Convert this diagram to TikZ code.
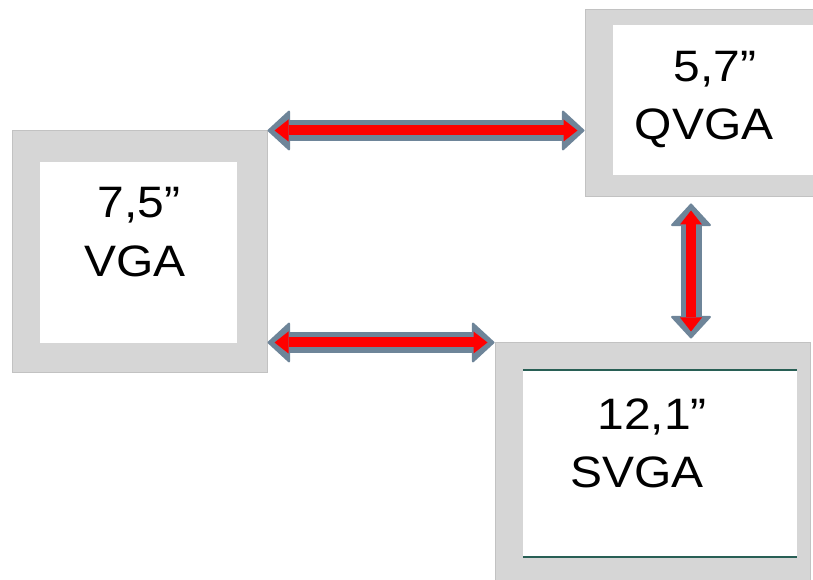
\documentclass[tikz,border=0pt]{standalone}
\usepackage{fontspec}
\setmainfont{Liberation Sans}
\usetikzlibrary{arrows.meta}
\definecolor{linkgray}{RGB}{110,133,153}
\definecolor{bezelgray}{RGB}{214,214,214}
\definecolor{edgeteal}{RGB}{40,95,85}

\tikzset{
  bezel/.style={draw=black!24, line width=1pt, fill=bezelgray, inner sep=0pt},
  screen/.style={fill=white, inner sep=0pt},
  caption/.style={font=\fontsize{44}{50}\selectfont, anchor=base, inner sep=0pt,
    xscale=1.09, transform shape},
  link/.style={draw=red, line width=10pt, shorten <=7pt, shorten >=7pt,
    {Triangle[length=14pt,width=22pt,line width=0pt]}-{Triangle[length=14pt,width=22pt,line width=0pt]},
    preaction={draw=linkgray, line width=21pt, shorten <=0pt, shorten >=0pt,
      {Triangle[length=23pt,width=42pt,line width=2pt,round]}-{Triangle[length=23pt,width=42pt,line width=2pt,round]}}}
}

\begin{document}
\begin{tikzpicture}[x=1pt,y=1pt]
  \clip (0,0) rectangle (813,580);

  % monitors
  \node[bezel, minimum width=255, minimum height=242] (vga) at (139.5,328) {};
  \node[screen, minimum width=197, minimum height=181] (vgascreen) at (138.5,327.5) {};
  \node[bezel, minimum width=250, minimum height=187] (qvga) at (710,476.5) {};
  \node[screen, minimum width=202, minimum height=150] (qvgascreen) at (714,480) {};
  \node[bezel, minimum width=315, minimum height=257] (svga) at (652.5,108.5) {};
  \node[screen, minimum width=274, minimum height=187] (svgascreen) at (660,116.5) {};
  \draw[edgeteal, line width=1.5pt] (svgascreen.north west) -- (svgascreen.north east);
  \draw[edgeteal, line width=1.5pt] (svgascreen.south west) -- (svgascreen.south east);

  % captions
  \node[caption] (vgasize) at (139,362) {7,5”};
  \node[caption] (vganame) at (135,303) {VGA};
  \node[caption] (qvgasize) at (715,498) {5,7”};
  \node[caption] (qvganame) at (704,440) {QVGA};
  \node[caption] (svgasize) at (652,150) {12,1”};
  \node[caption] (svganame) at (637,92) {SVGA};

  % links
  \coordinate (vtop) at ([xshift=-19pt,yshift=-6pt]qvga.south);
  \path (vtop |- svga.north) ++(0,4) coordinate (vbot);
  \draw[link] (vga.north east) -- (vga.north east -| qvga.west);
  \draw[link] (svga.north west -| vga.east) -- (svga.north west);
  \draw[link] (vtop) -- (vbot);
\end{tikzpicture}
\end{document}
